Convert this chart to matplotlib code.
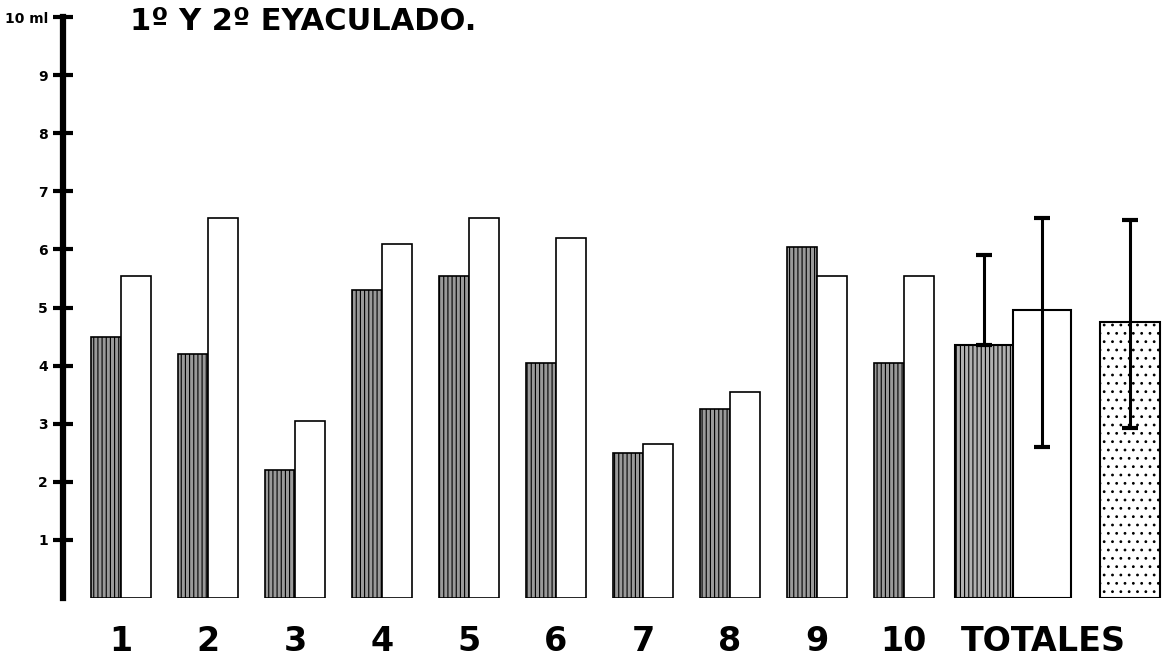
import numpy as np
import matplotlib.pyplot as plt

# volumen (ml) por animal, 1er y 2do eyaculado
grupos = ['1', '2', '3', '4', '5', '6', '7', '8', '9', '10']
primero = [4.5, 4.2, 2.2, 5.3, 5.55, 4.05, 2.5, 3.25, 6.05, 4.05]
segundo = [5.55, 6.55, 3.05, 6.1, 6.55, 6.2, 2.65, 3.55, 5.55, 5.55]

# totales: media 1er, media 2do, media general
totales = [4.35, 4.95, 4.75]
err_inf = [0.0, 2.35, 1.82]
err_sup = [1.55, 1.6, 1.75]

plt.rcParams['hatch.linewidth'] = 0.8

fig = plt.figure(figsize=(11.63, 6.6), dpi=100)
ax = fig.add_axes([0.0542, 0.094, 0.9458, 0.88])

x = np.arange(1, len(grupos) + 1)
w = 0.345
ax.bar(x - w / 2, primero, w, facecolor='#9a9a9a', edgecolor='black',
       hatch='||||', linewidth=1.2)
ax.bar(x + w / 2, segundo, w, facecolor='white', edgecolor='black', linewidth=1.2)

# barras de totales
xt = [11.26 - 0.333, 11.26 + 0.333, 12.6]
wt = [0.667, 0.667, 0.70]
ax.bar(xt[0], totales[0], wt[0], facecolor='#b0b0b0', edgecolor='black',
       hatch='||||', linewidth=1.5)
ax.bar(xt[1], totales[1], wt[1], facecolor='white', edgecolor='black', linewidth=1.5)
ax.bar(xt[2], totales[2], wt[2], facecolor='white', edgecolor='black',
       hatch='..', linewidth=1.5)
ax.errorbar(xt[1:], totales[1:], yerr=[err_inf[1:], err_sup[1:]], fmt='none',
            ecolor='black', elinewidth=2.2, capsize=6, capthick=3)
ax.errorbar(xt[:1], totales[:1], yerr=[err_inf[:1], err_sup[:1]], fmt='none',
            ecolor='black', elinewidth=2.2, capsize=6, capthick=3, uplims=False)

ax.set_xlim(0.333, 12.98)
ax.set_ylim(0, 10)

for s in ['top', 'right', 'bottom']:
    ax.spines[s].set_visible(False)
ax.spines['left'].set_linewidth(4.5)

ax.set_yticks(range(1, 11))
ax.set_yticklabels([str(i) for i in range(1, 10)] + ['10 ml'],
                   fontsize=10, fontweight='bold')
ax.tick_params(axis='y', direction='inout', length=14, width=3, pad=4)
ax.set_xticks([])

# etiquetas de grupo
for xi, g in zip(x, grupos):
    ax.text(xi, -0.75, g, ha='center', va='center', fontsize=24,
            fontweight='bold', clip_on=False)
ax.text(11.61, -0.75, 'TOTALES', ha='center', va='center', fontsize=24,
        fontweight='bold', clip_on=False)

fig.text(0.112, 0.955, '1º Y 2º EYACULADO.', fontsize=22, fontweight='bold',
         va='baseline', ha='left')

fig.savefig('out.png', dpi=100)
